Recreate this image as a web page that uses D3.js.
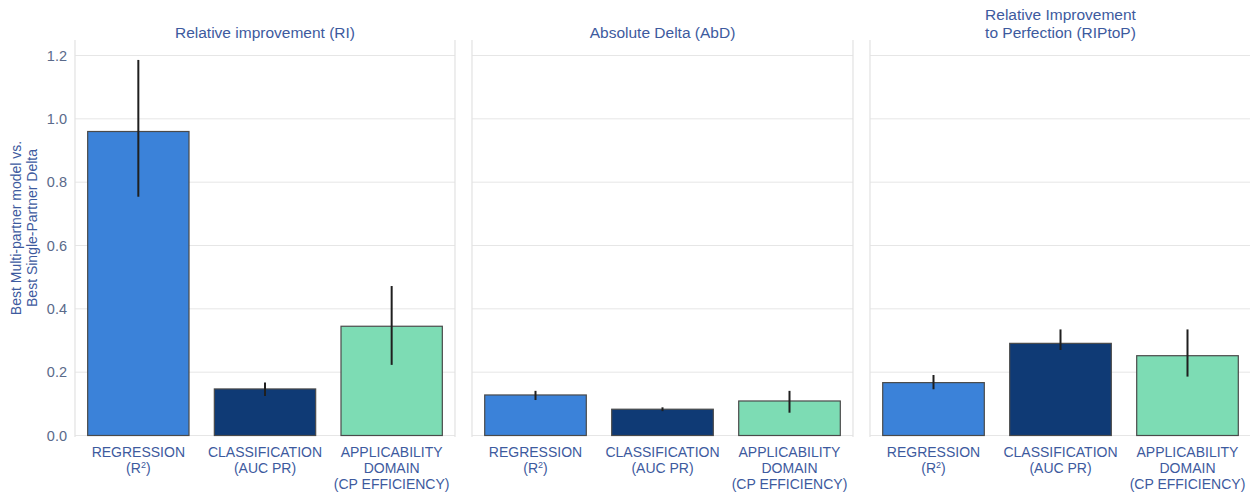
<!DOCTYPE html>
<html>
<head>
<meta charset="utf-8">
<script src="https://cdn.jsdelivr.net/npm/d3@7"></script>
<style>
  body { margin: 0; background: #fff; }
  text { font-family: "Liberation Sans", Arial, sans-serif; }
</style>
</head>
<body>
<svg id="chart" width="1250" height="493"></svg>
<script>
// data
const panels = ["Relative improvement (RI)", "Absolute Delta (AbD)", "Relative Improvement\nto Perfection (RIPtoP)"];
const categories = ["REGRESSION", "CLASSIFICATION", "APPLICABILITY"];
const catLabels = [["REGRESSION", "(R²)"], ["CLASSIFICATION", "(AUC PR)"], ["APPLICABILITY", "DOMAIN", "(CP EFFICIENCY)"]];
const values = [
  [0.96, 0.147, 0.345],
  [0.128, 0.083, 0.109],
  [0.167, 0.291, 0.252]
];
const errLow = [
  [0.754, 0.125, 0.223],
  [0.112, 0.077, 0.072],
  [0.146, 0.27, 0.186]
];
const errHigh = [
  [1.186, 0.167, 0.472],
  [0.141, 0.089, 0.141],
  [0.191, 0.335, 0.335]
];
const yTicks = [0, 0.2, 0.4, 0.6, 0.8, 1.0, 1.2];
const colors = ["#3b82d9", "#0f3a75", "#7ddcb4"];

const textColor = "#3d5a9e";
const svg = d3.select("#chart");

const panelX = [[75, 455], [472, 853], [870, 1251]];
const plotTop = 40, plotBottom = 437;

const y = d3.scaleLinear().domain([0, 1.2]).range([435.5, 55.5]);

panels.forEach((title, p) => {
  const g = svg.append("g");
  const x = d3.scaleBand().domain(categories).range(panelX[p]).paddingInner(0.2).paddingOuter(0.1);

  // grid
  g.selectAll("line.grid").data(yTicks).enter().append("line")
    .attr("x1", panelX[p][0]).attr("x2", panelX[p][1])
    .attr("y1", d => y(d)).attr("y2", d => y(d))
    .attr("stroke", "#e6e6e6").attr("stroke-width", 1);

  // side spines
  [panelX[p][0], panelX[p][1]].forEach(xx => {
    g.append("line").attr("x1", xx).attr("x2", xx).attr("y1", plotTop).attr("y2", plotBottom)
      .attr("stroke", "#e2e2e2").attr("stroke-width", 1.2);
  });

  // bars
  g.selectAll("rect").data(categories).enter().append("rect")
    .attr("x", d => x(d))
    .attr("width", x.bandwidth())
    .attr("y", (d, i) => y(values[p][i]))
    .attr("height", (d, i) => y(0) - y(values[p][i]))
    .attr("fill", (d, i) => colors[i])
    .attr("stroke", "#4a4a4a").attr("stroke-width", 1.2);

  // error bars
  g.selectAll("line.err").data(categories).enter().append("line")
    .attr("x1", d => x(d) + x.bandwidth() / 2)
    .attr("x2", d => x(d) + x.bandwidth() / 2)
    .attr("y1", (d, i) => y(errLow[p][i]))
    .attr("y2", (d, i) => y(errHigh[p][i]))
    .attr("stroke", "#1f1f1f").attr("stroke-width", 2);

  // title
  const lines = title.split("\n");
  const cx = (panelX[p][0] + panelX[p][1]) / 2;
  const t = g.append("text").attr("text-anchor", "middle").attr("fill", textColor)
    .attr("font-size", 15.5);
  lines.forEach((l, k) => {
    t.append("tspan").attr("x", cx).attr("y", 38 - (lines.length - 1 - k) * 18).text(l);
  });

  // category labels
  categories.forEach((c, i) => {
    const lt = g.append("text").attr("text-anchor", "middle").attr("fill", textColor)
      .attr("font-size", 14);
    catLabels[i].forEach((l, k) => {
      const ts = lt.append("tspan").attr("x", x(c) + x.bandwidth() / 2).attr("y", 457 + k * 16);
      if (l === "(R²)") {
        ts.text("(R");
        lt.append("tspan").attr("dy", -5).attr("font-size", 9).text("2");
        lt.append("tspan").attr("dy", 5).text(")");
      } else {
        ts.text(l);
      }
    });
  });
});

// y tick labels (shared axis, first panel only)
svg.append("g").selectAll("text").data(yTicks).enter().append("text")
  .attr("x", 67).attr("y", d => y(d)).attr("dy", "0.35em")
  .attr("text-anchor", "end").attr("fill", "#5a6a8a").attr("font-size", 14.5)
  .text(d => d3.format(".1f")(d));

// y axis label
const yl = svg.append("text").attr("transform", "translate(0,228) rotate(-90)")
  .attr("text-anchor", "middle").attr("fill", textColor).attr("font-size", 14);
yl.append("tspan").attr("x", 0).attr("y", 21).text("Best Multi-partner model vs.");
yl.append("tspan").attr("x", 0).attr("y", 37).text("Best Single-Partner Delta");
</script>
</body>
</html>
